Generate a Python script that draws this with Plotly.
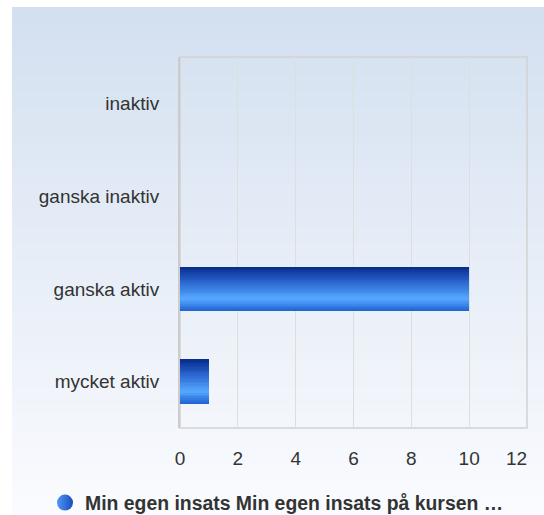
import plotly.graph_objects as go

categories = ["inaktiv", "ganska inaktiv", "ganska aktiv", "mycket aktiv"]
values = [0, 0, 10, 1]
series_name = "Min egen insats Min egen insats på kursen …"
x_ticks = [0, 2, 4, 6, 8, 10, 12]

W, H = 544, 515
L, R, T, B = 180, 17, 57, 87
pw, ph = W - L - R, H - T - B
FONT = "Liberation Sans, Arial, sans-serif"
FS = 19

def hex2rgb(h):
    h = h.lstrip("#")
    return tuple(int(h[i:i + 2], 16) for i in (0, 2, 4))

def interp(stops, t):
    for (t0, c0), (t1, c1) in zip(stops, stops[1:]):
        if t0 <= t <= t1:
            f = (t - t0) / (t1 - t0) if t1 > t0 else 0
            a, b = hex2rgb(c0), hex2rgb(c1)
            return "rgb(%d,%d,%d)" % tuple(round(a[i] + (b[i] - a[i]) * f) for i in range(3))
    return stops[-1][1]

bar_stops = [(0, "#072a8a"), (0.35, "#2a66cf"), (0.72, "#56a8ff"), (1, "#1f62d2")]
bg_stops = [(0, "#d3e0f0"), (1, "#fafbfe")]

fig = go.Figure()

bw = 0.48
N = 24
for i in range(N):
    t = 1 - (i + 0.5) / N  # i=0 bottom slice
    fig.add_trace(go.Bar(
        x=values, y=categories, orientation="h",
        offset=-bw / 2 + i * bw / N, width=bw / N * (1.08 if i < N - 1 else 1.0),
        marker=dict(color=interp(bar_stops, t), line=dict(width=0)),
        showlegend=False, hoverinfo="skip",
    ))
# legend entry
fig.add_trace(go.Scatter(
    x=[None], y=[None], mode="markers", name=series_name,
    marker=dict(symbol="circle", size=20, color="#4f98f8",
                gradient=dict(type="horizontal", color="#1a4cba"),
                line=dict(width=0)),
))

# background gradient bands
nb = 60
y_top, y_bot = 7, 515
x_left = 12
shapes = []
for k in range(nb):
    py0 = y_top + (y_bot - y_top) * k / nb
    py1 = y_top + (y_bot - y_top) * (k + 1) / nb + 0.5
    shapes.append(dict(
        type="rect", xref="paper", yref="paper", layer="below",
        x0=(x_left - L) / pw, x1=(W - L) / pw + 0.01,
        y0=(H - B - py1) / ph, y1=(H - B - py0) / ph,
        fillcolor=interp(bg_stops, k / (nb - 1)), line=dict(width=0),
    ))
# plot border
shapes.append(dict(type="rect", xref="paper", yref="paper", layer="below",
                   x0=0, x1=1, y0=0, y1=1, line=dict(color="#d2d2d2", width=1.5)))
fig.update_layout(shapes=shapes)

# last x tick label nudged inside the figure, as in the original
fig.add_annotation(x=x_ticks[-1], xref="x", y=-(458 - (H - B)) / ph, yref="paper",
                   text=str(x_ticks[-1]), showarrow=False, xanchor="right", yanchor="middle",
                   font=dict(family=FONT, size=FS, color="#333333"), xshift=2)

fig.update_layout(
    width=W, height=H,
    margin=dict(l=L, r=R, t=T, b=B, autoexpand=False),
    paper_bgcolor="white", plot_bgcolor="rgba(0,0,0,0)",
    barmode="overlay", bargap=0,
    font=dict(family=FONT, size=FS, color="#333333"),
    xaxis=dict(range=[0, 12], tickvals=x_ticks[:-1], showgrid=True, gridcolor="#dedede",
               gridwidth=1, zeroline=False, showline=False, ticks="", ticklabelstandoff=17,
               tickfont=dict(size=FS), fixedrange=True),
    yaxis=dict(categoryorder="array", categoryarray=categories[::-1], showgrid=False,
               showline=True, linecolor="#cccccc", linewidth=2, ticks="", ticklabelstandoff=15,
               tickfont=dict(size=FS), fixedrange=True),
    legend=dict(orientation="h", x=(45 - L) / pw, xanchor="left", y=-(503 - (H - B)) / ph,
                yanchor="middle",
                font=dict(size=19.4, color="#333333", family=FONT, weight="bold"),
                bgcolor="rgba(0,0,0,0)", itemwidth=30),
    showlegend=True,
)

fig.write_html("out.html", config={"displayModeBar": False},
               post_script="document.body.style.margin='0';")
